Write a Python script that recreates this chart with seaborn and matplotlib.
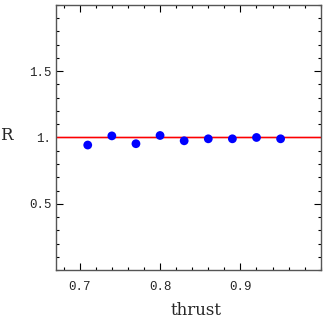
import matplotlib
matplotlib.use("Agg")
import matplotlib.pyplot as plt
import seaborn as sns
import pandas as pd
from matplotlib.ticker import MultipleLocator, FixedLocator, FixedFormatter

thrust = [0.71, 0.74, 0.77, 0.80, 0.83, 0.86, 0.89, 0.92, 0.95]
R = [0.943, 1.012, 0.953, 1.015, 0.975, 0.99, 0.99, 1.0, 0.99]
R_err = [0.018, 0.018, 0.018, 0.018, 0.015, 0.012, 0.012, 0.012, 0.012]
ref_value = 1.0
ref_band = 0.012
x_ticks = [0.7, 0.8, 0.9]
x_labels = ["0.7", "0.8", "0.9"]
y_ticks = [0.5, 1.0, 1.5]
y_labels = ["0.5", "1.", "1.5"]

df = pd.DataFrame({"thrust": thrust, "R": R, "err": R_err})

sns.set_style("white")
fig = plt.figure(figsize=(3.27, 3.25), dpi=100)
ax = fig.add_axes([0.170, 0.169, 0.811, 0.816])

ax.axhspan(ref_value - ref_band, ref_value + ref_band, color="#f8d8dc", lw=0, zorder=1)
ax.axhline(ref_value, color="red", lw=1.0, zorder=2)
ax.errorbar(df["thrust"], df["R"], yerr=df["err"], fmt="none", ecolor="#b8b8f0", elinewidth=0.8, zorder=3)
sns.scatterplot(data=df, x="thrust", y="R", ax=ax, color="blue", s=40, edgecolor="none", zorder=4)

ax.set_xlim(0.67, 1.0)
ax.set_ylim(0.0, 2.0)

ax.xaxis.set_major_locator(FixedLocator(x_ticks))
ax.xaxis.set_major_formatter(FixedFormatter(x_labels))
ax.xaxis.set_minor_locator(MultipleLocator(0.02))
ax.yaxis.set_major_locator(FixedLocator(y_ticks))
ax.yaxis.set_major_formatter(FixedFormatter(y_labels))
ax.yaxis.set_minor_locator(MultipleLocator(0.1))

ax.tick_params(which="both", direction="in", top=True, right=True, bottom=True, left=True,
               color="black", width=0.8)
ax.tick_params(which="major", length=5)
ax.tick_params(which="minor", length=2.5)
for lab in ax.get_xticklabels() + ax.get_yticklabels():
    lab.set_family("Liberation Mono")
    lab.set_fontsize(9)
ax.tick_params(axis="y", pad=3)
ax.tick_params(axis="x", pad=8)

for sp in ax.spines.values():
    sp.set_visible(True)
    sp.set_color("#555555")
    sp.set_linewidth(1.0)

ax.set_xlabel("thrust", family="DejaVu Serif", fontsize=12)
ax.set_ylabel("R", family="DejaVu Serif", fontsize=12, rotation=0)
ax.yaxis.set_label_coords(-0.185, 0.475)
ax.xaxis.set_label_coords(0.53, -0.12)

fig.savefig("out.png", dpi=100)
